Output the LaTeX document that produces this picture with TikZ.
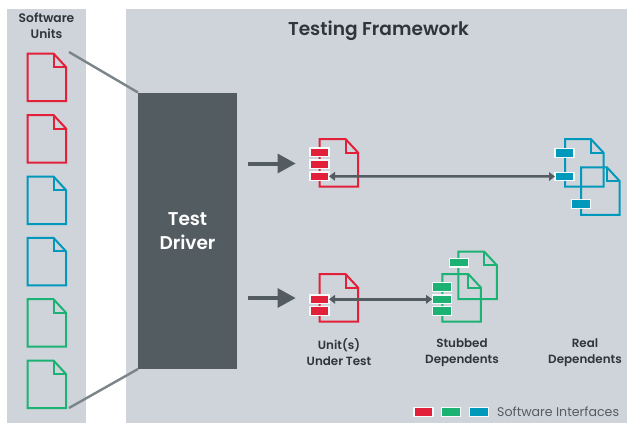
\documentclass[tikz,border=0pt]{standalone}
\usepackage{fontspec}
\setmainfont{Poppins}[BoldFont={Poppins SemiBold}]
\usetikzlibrary{arrows.meta}
\definecolor{panel}{HTML}{CFD4DA}
\definecolor{driver}{HTML}{535C61}
\definecolor{slanted}{HTML}{7B8488}
\definecolor{ink}{HTML}{2F3538}
\definecolor{softred}{HTML}{E3203A}
\definecolor{softgreen}{HTML}{1BB273}
\definecolor{softblue}{HTML}{0099BB}
\tikzset{
  panelbox/.style={fill=panel,draw=none},
  chip/.style={rectangle,draw=white!85!panel,line width=1.2pt,fill=#1,minimum width=19pt,minimum height=8.5pt,inner sep=0pt,outer sep=0pt},
  lab/.style={font=\fontsize{11.9}{15.5}\selectfont\bfseries,text=ink,align=center,inner sep=0pt},
  big/.style={line width=4pt,draw=driver},
  bighead/.style={fill=driver,draw=none},
  link/.style={line width=2.5pt,draw=driver,{Triangle[length=6pt,width=8.5pt]}-{Triangle[length=6pt,width=8.5pt]}},
  tie/.style={line width=2.4pt,draw=slanted}
}
% doc: x y colour
\newcommand{\docicon}[3]{%
  \draw[#3,line width=2pt,line join=miter] (#1,#2) -- ++(26,0) -- ++(12.5,13.5) -- ++(0,34) -- ++(-38.5,0) -- cycle;
  \draw[#3,line width=2pt,line join=miter] (#1+26,#2) -- ++(0,13.5) -- ++(12.5,0);
}
\newcommand{\bigarrow}[1]{%
  \fill[bighead] (277.5,#1-10) -- (295.5,#1) -- (277.5,#1+10) -- cycle;
}
\begin{document}
\begin{tikzpicture}[x=1pt,y=-1pt]
\useasboundingbox (0,0) rectangle (627,423);
\fill[white] (0,0) rectangle (627,423);
\fill[panelbox] (7,9) rectangle (86,423);
\fill[panelbox] (125.5,9) rectangle (627,423);

\coordinate (tieA) at (69,52);
\coordinate (tieB) at (69,408);
\node[fill=driver,minimum width=99pt,minimum height=276.5pt,inner sep=0pt,outer sep=0pt,
  font=\fontsize{18.5}{24}\selectfont\bfseries,text=white,align=center] (drv) at (187.5,230.75) {Test\\Driver};
\draw[tie] (tieA) -- (drv.north west);
\draw[tie] (tieB) -- (drv.south west);

\node[lab,font=\fontsize{12.3}{15.5}\selectfont\bfseries] (su) at (46.5,26) {Software\\Units};
\node[font=\fontsize{18.6}{20}\selectfont\bfseries,text=ink,inner sep=0pt] (tf) at (378.5,31) {Testing Framework};

\docicon{27.5}{53.5}{softred}
\docicon{27.5}{115}{softred}
\docicon{27.5}{176.5}{softblue}
\docicon{27.5}{237.8}{softblue}
\docicon{27.5}{299.2}{softgreen}
\docicon{27.5}{360.5}{softgreen}

% upper row
\coordinate (a1s) at (248,163.5);
\coordinate (a1e) at (278,163.5);
\draw[big] (a1s) -- (a1e);
\bigarrow{163.5}
\docicon{319.5}{139}{softred}
\node[chip=softred] (ua) at (319.5,152.3) {};
\node[chip=softred] (ub) at (319.5,164.3) {};
\node[chip=softred] (uc) at (319.5,176.3) {};

\docicon{565}{139.2}{softblue}
\docicon{581}{167.4}{softblue}
\node[chip=softblue] (ra) at (564.5,153) {};
\node[chip=softblue] (rb) at (564.5,176.5) {};
\node[chip=softblue] (rc) at (580.8,204) {};
\draw[link] (uc.east) -- (rb.west);

% lower row
\coordinate (a2s) at (248,298);
\coordinate (a2e) at (278,298);
\draw[big] (a2s) -- (a2e);
\bigarrow{298}
\docicon{319.5}{274}{softred}
\node[chip=softred] (va) at (319.5,299.3) {};
\node[chip=softred] (vb) at (319.5,311) {};

\docicon{458.3}{251.7}{softgreen}
\docicon{442.3}{274}{softgreen}
\node[chip=softgreen] (sa) at (459.3,262.7) {};
\node[chip=softgreen] (sb) at (441.7,287) {};
\node[chip=softgreen] (sc) at (441.7,299.3) {};
\node[chip=softgreen] (sd) at (441.7,311) {};
\draw[link] (va.east) -- (sc.west);

\node[lab] (l1) at (339,352) {Unit(s)\\Under Test};
\node[lab] (l2) at (462,352.5) {Stubbed\\Dependents};
\node[lab] (l3) at (585,352.5) {Real\\Dependents};

% legend
\node[chip=softred] (k1) at (423.5,412) {};
\node[chip=softgreen] (k2) at (451,412) {};
\node[chip=softblue] (k3) at (479,412) {};
\node[anchor=west,inner sep=0pt,font=\fontsize{12.6}{15}\selectfont,text=driver] (kt) at (497,411.5) {Software Interfaces};
\end{tikzpicture}
\end{document}
